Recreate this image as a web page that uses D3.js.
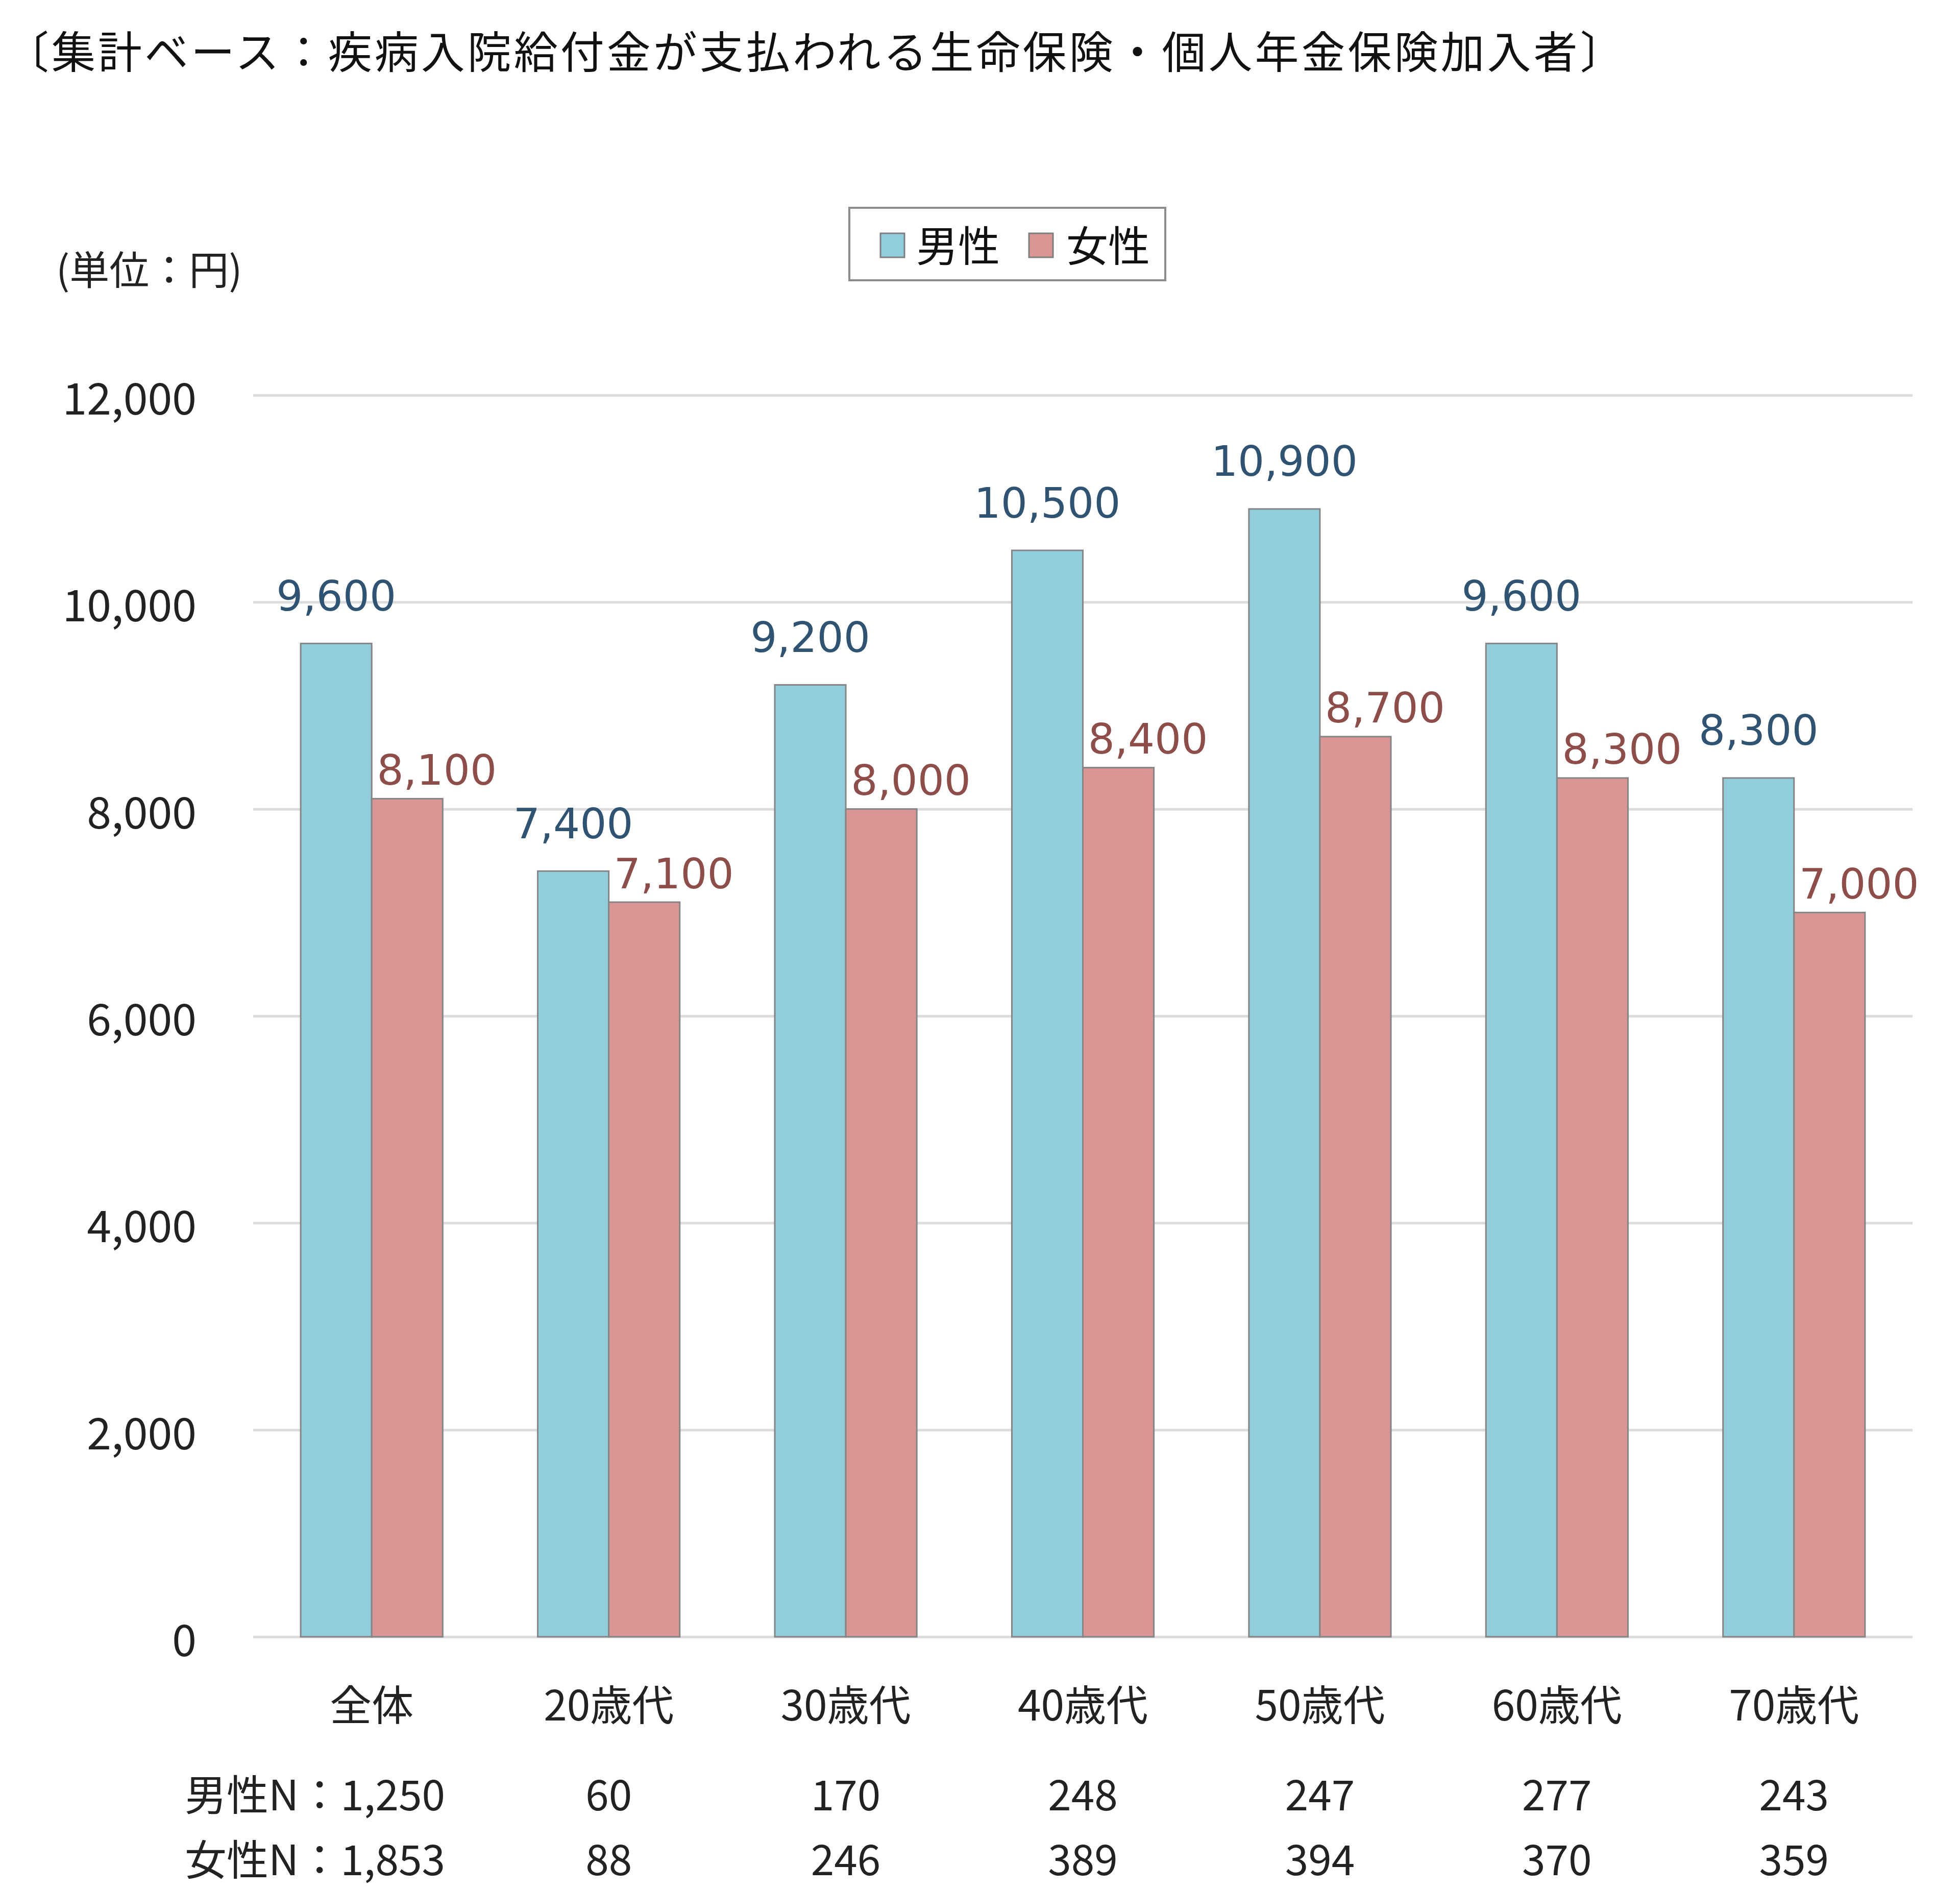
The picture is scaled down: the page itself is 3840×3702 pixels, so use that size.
<!DOCTYPE html>
<html><head><meta charset="utf-8">
<script src="https://cdn.jsdelivr.net/npm/d3@7"></script>
<style>
html,body{margin:0;padding:0;background:#fff;}
svg{display:block;}
</style>
</head><body>
<svg id="chart" width="3840" height="3702"></svg>
<script>
const titleText = "〔集計ベース：疾病入院給付金が支払われる生命保険・個人年金保険加入者〕";
const unitText = "(単位：円)";
const categories = ["全体","20歳代","30歳代","40歳代","50歳代","60歳代","70歳代"];
const seriesNames = ["男性","女性"];
const maleValues = [9600, 7400, 9200, 10500, 10900, 9600, 8300];
const femaleValues = [8100, 7100, 8000, 8400, 8700, 8300, 7000];
const yTicks = [0, 2000, 4000, 6000, 8000, 10000, 12000];
const maleN = ["1,250","60","170","248","247","277","243"];
const femaleN = ["1,853","88","246","389","394","370","359"];
const rowLabels = ["男性N：","女性N："];

const colors = {"男性":"#92CDDC","女性":"#D99694"};
const labelColors = {"男性":"#2F5473","女性":"#8E4D48"};
const JP = "'Noto Sans CJK JP','Noto Sans',sans-serif";
const NUM = "'DejaVu Sans',Verdana,sans-serif";

const svg = d3.select("#chart");
const plotLeft = 496, plotRight = 3747, plotTop = 774, plotBottom = 3206;

const x0 = d3.scaleBand().domain(categories).range([plotLeft, plotRight]).paddingInner(0).paddingOuter(0);
const barW = x0.bandwidth() * 0.2995;
const x1 = d3.scaleBand().domain(seriesNames).range([0, barW*2]).padding(0);
const groupOffset = (x0.bandwidth() - barW*2) / 2;
const y = d3.scaleLinear().domain([0, 12000]).range([plotBottom, plotTop]);

// title
svg.append("text").attr("x", 10).attr("y", 96)
  .attr("dominant-baseline","central")
  .style("font-family", JP).style("font-size","86px").style("letter-spacing","5px").style("fill","#111")
  .text(titleText);

// unit
svg.append("text").attr("x", 110).attr("y", 524)
  .attr("dominant-baseline","central")
  .style("font-family", JP).style("font-size","78px").style("fill","#222")
  .text(unitText);

// legend
const lg = svg.append("g");
lg.append("rect").attr("x",1664).attr("y",407).attr("width",619).attr("height",142)
  .attr("fill","#fff").attr("stroke","#8c8c8c").attr("stroke-width",4);
const legendItems = [{name:"男性", sx:1725, tx:1795},{name:"女性", sx:2016, tx:2089}];
legendItems.forEach(it=>{
  lg.append("rect").attr("x",it.sx).attr("y",457).attr("width",47).attr("height",47)
    .attr("fill",colors[it.name]).attr("stroke","#7f7f7f").attr("stroke-width",3);
  lg.append("text").attr("x",it.tx).attr("y",476).attr("dominant-baseline","central")
    .style("font-family",JP).style("font-size","82px").style("fill","#111").text(it.name);
});

// gridlines + y labels
const yAxis = d3.axisLeft(y).tickValues(yTicks).tickSize(-(plotRight-plotLeft)).tickFormat(d3.format(","));
const ga = svg.append("g").attr("transform",`translate(${plotLeft},0)`).call(yAxis);
ga.select(".domain").remove();
ga.selectAll(".tick line").attr("stroke","#dcdcdc").attr("stroke-width",5);
ga.selectAll(".tick text").attr("x",-111).attr("dy",null).attr("dominant-baseline","central")
  .style("font-family",JP).style("font-size","86px").style("fill","#222");

// bars
const data = categories.map((c,i)=>({cat:c, vals:[{s:"男性",v:maleValues[i]},{s:"女性",v:femaleValues[i]}]}));
const groups = svg.append("g").selectAll("g").data(data).join("g")
  .attr("transform",d=>`translate(${x0(d.cat)+groupOffset},0)`);
groups.selectAll("rect").data(d=>d.vals).join("rect")
  .attr("x",d=>x1(d.s)).attr("y",d=>y(d.v))
  .attr("width",x1.bandwidth()).attr("height",d=>y(0)-y(d.v))
  .attr("fill",d=>colors[d.s]).attr("stroke","#858585").attr("stroke-width",3);
groups.selectAll("text").data(d=>d.vals).join("text")
  .attr("x",d=>x1(d.s)+x1.bandwidth()/2 + (d.s==="女性"?58:0))
  .attr("y",d=>y(d.v) - (d.s==="男性"?93:56))
  .attr("text-anchor","middle").attr("dominant-baseline","central")
  .style("font-family",NUM).style("font-size","82px").style("fill",d=>labelColors[d.s])
  .text(d=>d3.format(",")(d.v));

// category axis labels
const xAxis = d3.axisBottom(x0).tickSize(0);
const gx = svg.append("g").attr("transform",`translate(0,${plotBottom})`).call(xAxis);
gx.select(".domain").remove();
gx.selectAll(".tick text").attr("y",128).attr("dy",null).attr("dominant-baseline","central")
  .style("font-family",JP).style("font-size","82px").style("fill","#222");

// N rows
const rows = [{label:rowLabels[0], vals:maleN, y:3510},{label:rowLabels[1], vals:femaleN, y:3637}];
rows.forEach(r=>{
  r.vals.forEach((v,i)=>{
    if(i===0){
      svg.append("text").attr("x",362).attr("y",r.y).attr("dominant-baseline","central")
        .style("font-family",JP).style("font-size","82px").style("fill","#222")
        .text(r.label + v);
    } else {
      svg.append("text").attr("x",x0(categories[i])+x0.bandwidth()/2).attr("y",r.y)
        .attr("text-anchor","middle").attr("dominant-baseline","central")
        .style("font-family",JP).style("font-size","82px").style("fill","#222").text(v);
    }
  });
});
</script>
</body></html>
